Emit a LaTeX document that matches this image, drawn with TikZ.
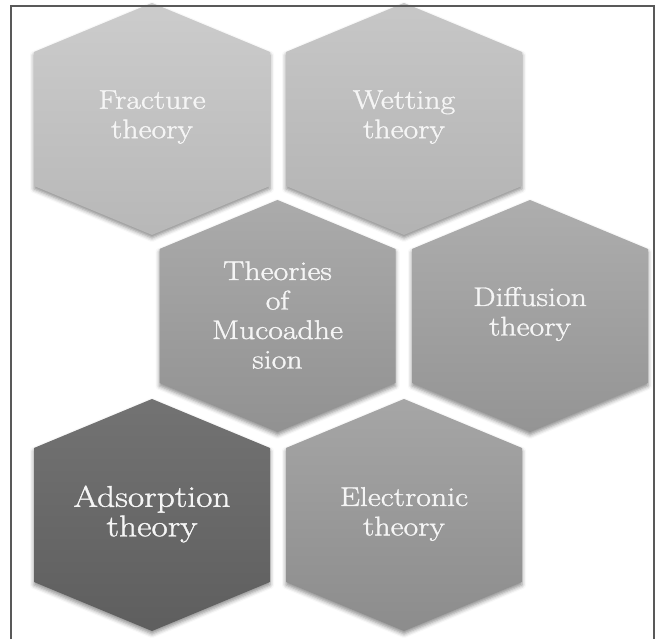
\documentclass[tikz,border=0pt]{standalone}
\usepackage{fontspec}
\newfontfamily\hexfont{Latin Modern Roman}[FakeStretch=1.18,FakeBold=1.3]
\usetikzlibrary{shadows.blur}
\begin{document}
\begin{tikzpicture}[x=1pt,y=1pt,
  hexbox/.style={blur shadow={shadow xshift=0pt, shadow yshift=-3pt, shadow blur radius=4pt, shadow opacity=45}},
  hexlabel/.style={text=white!96!black, align=center, font=\hexfont\fontsize{27}{29.5}\selectfont, inner sep=0pt},
  framecol/.style={draw=black!65, line width=1.2pt}
]
\useasboundingbox (0,0) rectangle (655,639);
% Row 1
\path[hexbox, shift={(152,520)}, top color=black!20, bottom color=black!28]
  (0,116)--(118,67)--(118,-67)--(0,-116)--(-118,-67)--(-118,67)--cycle;
\path[hexbox, shift={(404,520)}, top color=black!22, bottom color=black!30]
  (0,116)--(118,67)--(118,-67)--(0,-116)--(-118,-67)--(-118,67)--cycle;
% Row 2
\path[hexbox, shift={(277.5,323)}, top color=black!33, bottom color=black!43]
  (0,116)--(118,67)--(118,-67)--(0,-116)--(-118,-67)--(-118,67)--cycle;
\path[hexbox, shift={(530,323)}, top color=black!32, bottom color=black!42]
  (0,116)--(118,67)--(118,-67)--(0,-116)--(-118,-67)--(-118,67)--cycle;
% Row 3
\path[hexbox, shift={(152,124)}, top color=black!55, bottom color=black!63]
  (0,116)--(118,67)--(118,-67)--(0,-116)--(-118,-67)--(-118,67)--cycle;
\path[hexbox, shift={(404,124)}, top color=black!35, bottom color=black!45]
  (0,116)--(118,67)--(118,-67)--(0,-116)--(-118,-67)--(-118,67)--cycle;
% Labels
\node[hexlabel] (fracture) at (152,522) {Fracture\\theory};
\node[hexlabel] (wetting) at (404,522) {Wetting\\theory};
\node[hexlabel] (theories) at (277.5,324) {Theories\\of\\Mucoadhe\\sion};
\node[hexlabel] (diffusion) at (530,325) {Diffusion\\theory};
\node[hexlabel, font=\hexfont\fontsize{30}{29.5}\selectfont] (adsorption) at (152,125) {Adsorption\\theory};
\node[hexlabel] (electronic) at (404,125) {Electronic\\theory};
% Frame
\draw[framecol] (11,0) -- (11,633) -- (654,633) -- (654,0);
\end{tikzpicture}
\end{document}
